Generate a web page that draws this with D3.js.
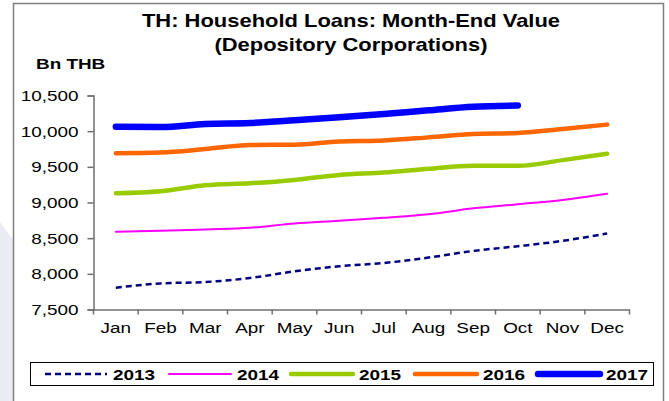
<!DOCTYPE html>
<html><head><meta charset="utf-8">
<script src="https://cdn.jsdelivr.net/npm/d3@7/dist/d3.min.js"></script>
<style>body{margin:0;background:#fff}svg{display:block;font-family:"Liberation Sans",Arial,sans-serif}</style>
</head><body>
<script>
const months = ["Jan","Feb","Mar","Apr","May","Jun","Jul","Aug","Sep","Oct","Nov","Dec"];
const yTicks = [7500,8000,8500,9000,9500,10000,10500];
const v2013 = [7806,7866,7885,7941,8035,8106,8152,8228,8321,8387,8462,8566];
const v2014 = [8589,8603,8623,8645,8707,8744,8786,8834,8918,8975,9035,9124];
const v2015 = [9130,9158,9242,9270,9317,9387,9420,9472,9514,9514,9594,9683];
const v2016 = [9692,9701,9749,9806,9810,9856,9870,9913,9960,9975,10031,10092];
const v2017 = [10063,10058,10101,10115,10152,10194,10240,10292,10341,10359];
const seriesNames = ["2013","2014","2015","2016","2017"];
const seriesValues = [v2013,v2014,v2015,v2016,v2017];
const seriesColors = ["#000080","#FF00FF","#99CC00","#FF6600","#0000FF"];
const seriesWidths = [2.5,2,4.5,4.5,6.5];
const seriesDash = ["6,4",null,null,null,null];

const W=669,H=401,SX=1.22;
const svg=d3.select("body").append("svg").attr("width",W).attr("height",H);
svg.append("polygon").attr("points","0,222 13,240 13,401 0,401").attr("fill","#ebebf3");
svg.append("rect").attr("x",13.5).attr("y",3.5).attr("width",650).attr("height",420)
  .attr("fill","#fff").attr("stroke","#7f7f7f").attr("stroke-width",1.5);

function stext(x,y,str,size,bold,anchor){
  return svg.append("text").attr("transform",`translate(${x},${y}) scale(${SX},1)`)
    .attr("text-anchor",anchor||"middle").attr("font-size",size).attr("font-weight",bold?"bold":"normal")
    .attr("fill","#000").text(str);
}
stext(351,27,"TH: Household Loans: Month-End Value",18,true);
stext(351,51,"(Depository Corporations)",18,true);
stext(36,69,"Bn THB",15.5,true,"start");

const x=d3.scaleBand().domain(months).range([93.5,629.5]);
const y=d3.scaleLinear().domain([7500,10500]).range([309.5,95.5]);
const cx=m=>x(m)+x.bandwidth()/2;

const ya=svg.append("g").attr("transform","translate(93.5,0)")
  .call(d3.axisLeft(y).tickValues(yTicks).tickSize(6).tickPadding(0).tickFormat(d3.format(",")));
ya.select(".domain").attr("stroke","#6f6f6f").attr("stroke-width",1.5);
ya.selectAll(".tick line").attr("stroke","#6f6f6f").attr("stroke-width",1.5);
ya.selectAll(".tick text").attr("x",0).attr("font-size",15.5).attr("font-family","Liberation Sans, Arial, sans-serif")
  .attr("fill","#000").attr("transform",`translate(-15,0) scale(${SX},1)`);

const xa=svg.append("g").attr("transform","translate(0,309.5)")
  .call(d3.axisBottom(x).tickSize(0).tickSizeOuter(0).tickFormat(""));
xa.select(".domain").attr("stroke","#6f6f6f").attr("stroke-width",1.5);
xa.selectAll(".tick").remove();
const bounds=months.map(m=>x(m)).concat([x.range()[1]]);
xa.selectAll("line.b").data(bounds).enter().append("line")
  .attr("x1",d=>d).attr("x2",d=>d).attr("y1",0).attr("y2",5).attr("stroke","#6f6f6f").attr("stroke-width",1.5);
months.forEach(m=>stext(cx(m),333,m,15.5,false));

const line=d3.line().x((d,i)=>cx(months[i])).y(d=>y(d)).curve(d3.curveMonotoneX);
seriesValues.forEach((vals,k)=>{
  svg.append("path").datum(vals).attr("d",line).attr("fill","none")
    .attr("stroke",seriesColors[k]).attr("stroke-width",seriesWidths[k])
    .attr("stroke-linecap",k===0?"butt":"round").attr("stroke-linejoin","round")
    .attr("stroke-dasharray",seriesDash[k]);
});

// legend
svg.append("rect").attr("x",30.5).attr("y",362.5).attr("width",623).attr("height",23)
  .attr("fill","#fff").attr("stroke","#000").attr("stroke-width",1);
const lx=[45,169,291,415,538];
seriesNames.forEach((n,k)=>{
  svg.append("line").attr("x1",lx[k]).attr("x2",lx[k]+62).attr("y1",374).attr("y2",374)
    .attr("stroke",seriesColors[k]).attr("stroke-width",seriesWidths[k])
    .attr("stroke-linecap",k===0?"butt":"round").attr("stroke-dasharray",seriesDash[k]);
  stext(lx[k]+68,380,n,15.5,true,"start");
});
</script>
</body></html>
